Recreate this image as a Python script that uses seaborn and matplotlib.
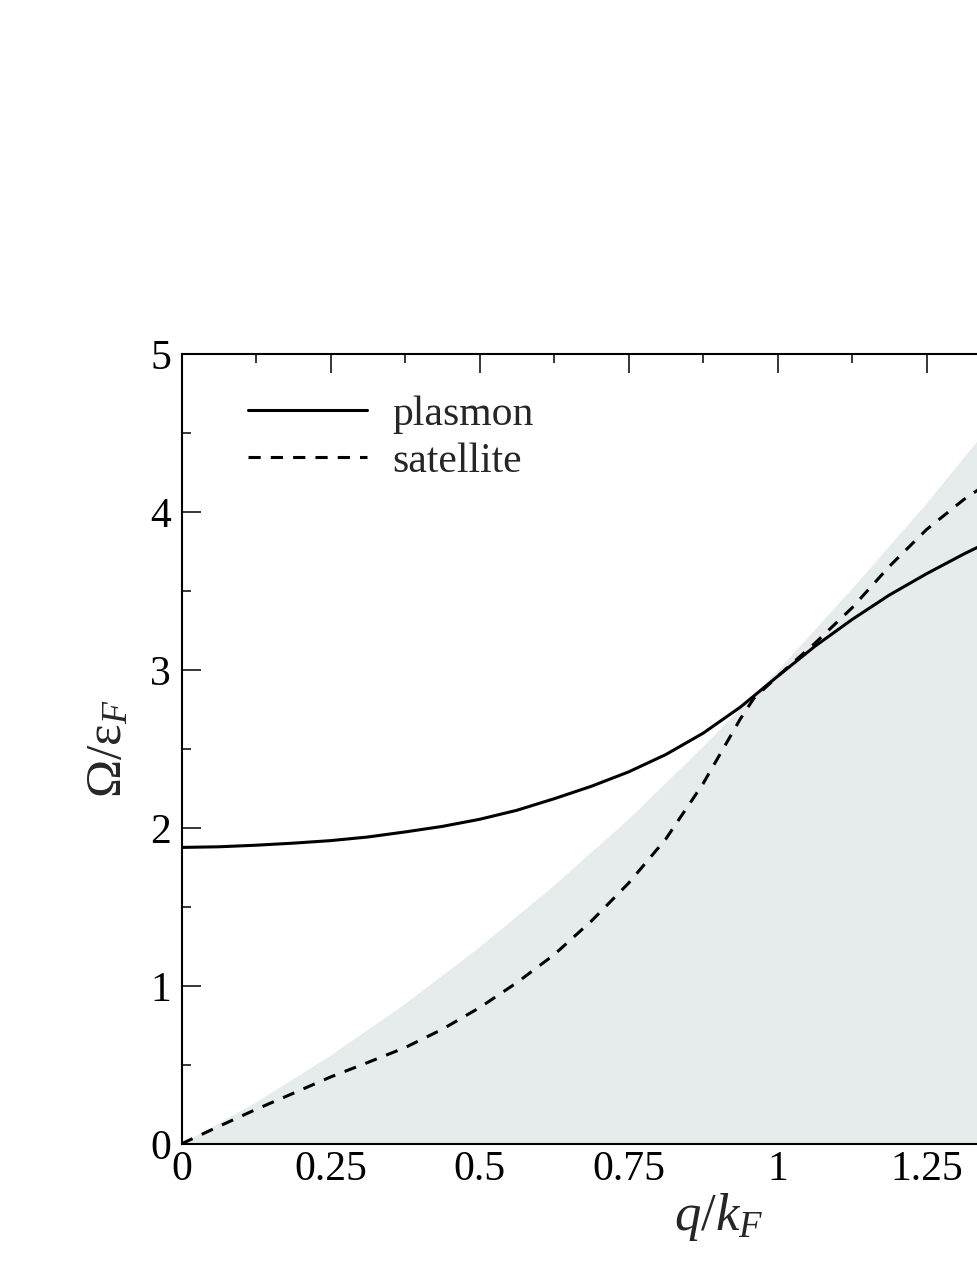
import numpy as np
import pandas as pd
import matplotlib
matplotlib.use("Agg")
import matplotlib.pyplot as plt
from matplotlib.ticker import MultipleLocator, FormatStrFormatter
import seaborn as sns

# momentum grid (q/kF)
q_vals = [0.0, 0.0625, 0.125, 0.1875, 0.25, 0.3125, 0.375, 0.4375, 0.5,
          0.5625, 0.625, 0.6875, 0.75, 0.8125, 0.875, 0.9375, 0.96, 1.0,
          1.0625, 1.125, 1.1875, 1.25, 1.3125, 1.375, 1.4375, 1.5]

# plasmon branch (solid)
plasmon = [1.877, 1.881, 1.891, 1.904, 1.92, 1.943, 1.975, 2.01, 2.055,
           2.112, 2.185, 2.264, 2.355, 2.465, 2.60, 2.765, 2.835, 2.96,
           3.15, 3.32, 3.475, 3.61, 3.735, 3.85, 3.96, 4.06]

# satellite branch (dashed)
satellite = [0.0, 0.11, 0.218, 0.32, 0.423, 0.515, 0.609, 0.725, 0.862,
             1.02, 1.197, 1.41, 1.65, 1.93, 2.28, 2.69, 2.82, 2.96,
             3.169, 3.394, 3.656, 3.89, 4.08, 4.24, 4.39, 4.53]

# upper edge of the particle-hole continuum (shaded)
edge_q = [0.0, 0.125, 0.25, 0.375, 0.5, 0.625, 0.75, 0.875, 1.0,
          1.125, 1.25, 1.375, 1.5]
edge_w = [0.0, 0.266, 0.5625, 0.89, 1.25, 1.64, 2.06, 2.52, 3.0,
          3.52, 4.06, 4.64, 5.25]

df = pd.DataFrame({"q": q_vals, "plasmon": plasmon, "satellite": satellite})

sns.set_theme(style="ticks")
plt.rcParams['font.family'] = ['Liberation Serif', 'DejaVu Serif']
plt.rcParams['mathtext.fontset'] = 'custom'
plt.rcParams['mathtext.rm'] = 'Liberation Serif'
plt.rcParams['mathtext.it'] = 'Liberation Serif:italic'

fig = plt.figure(figsize=(9.77, 12.64), dpi=100)
W, H = 977, 1264
x0, y0 = 181.5, 1143.8
px_per_q, px_per_w = 596.0, 157.9
xmax = 1.4
ax = fig.add_axes([x0 / W, (H - y0) / H, xmax * px_per_q / W, 5 * px_per_w / H])

ax.fill_between(edge_q, 0, edge_w, color='#e6ecec', linewidth=0, zorder=1)

sns.lineplot(data=df, x="q", y="plasmon", color='black', lw=2.2,
             label='plasmon', ax=ax, zorder=3)
sns.lineplot(data=df, x="q", y="satellite", color='black', lw=2.2,
             linestyle=(0, (4, 3.3)), label='satellite', ax=ax, zorder=3)

ax.set_xlim(0, xmax)
ax.set_ylim(0, 5)
ax.xaxis.set_major_locator(MultipleLocator(0.25))
ax.xaxis.set_minor_locator(MultipleLocator(0.125))
ax.yaxis.set_major_locator(MultipleLocator(1))
ax.yaxis.set_minor_locator(MultipleLocator(0.5))
ax.xaxis.set_major_formatter(FormatStrFormatter('%g'))
ax.yaxis.set_major_formatter(FormatStrFormatter('%g'))

ax.tick_params(which='both', direction='in', top=True, right=False,
               width=1.1, colors='black', labelsize=30)
ax.tick_params(which='major', length=13.7)
ax.tick_params(which='minor', length=6.5)
ax.tick_params(axis='y', pad=7.5)
ax.tick_params(axis='x', pad=5)
for side in ['left', 'bottom', 'top']:
    ax.spines[side].set_linewidth(1.5)
    ax.spines[side].set_color('black')
ax.spines['right'].set_visible(False)

ax.set_xlabel(r'$q/k_F$', fontsize=38)
ax.set_ylabel(r'$\mathrm{\Omega/\varepsilon}_F$', fontsize=37)
ax.xaxis.set_label_coords(0.601 * 1.5 / xmax, -0.06)
ax.yaxis.set_label_coords(-0.055 * 1.5 / xmax, 0.5)

ax.legend(loc='upper left', bbox_to_anchor=(0.0744 * 1.5 / xmax, 0.948),
          frameon=False, fontsize=30, handlelength=2.86, handletextpad=0.6,
          labelspacing=0.2, borderaxespad=0, borderpad=0)

fig.savefig('out.png', dpi=100)
